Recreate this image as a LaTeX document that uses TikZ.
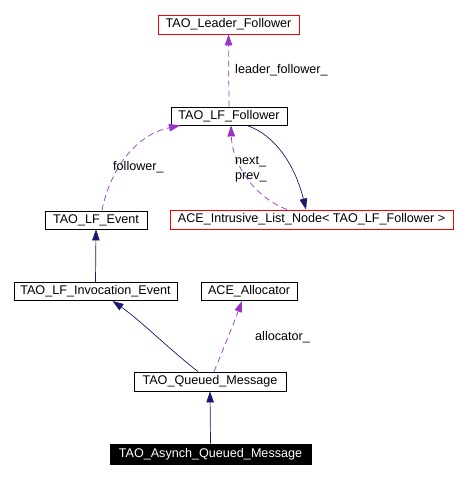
\documentclass[tikz,border=0pt]{standalone}
\usepackage{fontspec}
\setmainfont{Liberation Sans}
\usetikzlibrary{arrows.meta}
\definecolor{edgeblue}{HTML}{191970}
\definecolor{edgepurple}{HTML}{9A32CD}
\tikzset{
  cls/.style={draw=black, line width=0.9pt, fill=white, inner sep=0pt, text=black},
  redcls/.style={cls, draw=red},
  hicls/.style={cls, fill=black, text=white},
  inh/.style={draw=edgeblue, line width=0.7pt, -{Triangle[length=11pt,width=7.5pt]}},
  use/.style={draw=edgepurple, line width=0.7pt, dash pattern=on 6pt off 4pt, -{Triangle[length=11pt,width=7.5pt]}},
  lbl/.style={inner sep=0pt, text=black, anchor=west}
}
\begin{document}
\begin{tikzpicture}[x=1pt,y=-1pt,font=\fontsize{12.6}{14}\selectfont]
\useasboundingbox[fill=white] (0,0) rectangle (466,478);
\node[redcls, minimum width=141pt, minimum height=19pt] (leader) at (228.5,24.5) {TAO\_Leader\_Follower};
\node[cls, minimum width=116pt, minimum height=18pt] (follower) at (229,116) {TAO\_LF\_Follower};
\node[redcls, minimum width=283pt, minimum height=19pt] (intrusive) at (311.5,219.5) {ACE\_Intrusive\_List\_Node< TAO\_LF\_Follower >};
\node[cls, minimum width=102pt, minimum height=18pt] (event) at (96,220) {TAO\_LF\_Event};
\node[cls, minimum width=163pt, minimum height=18pt] (invocation) at (95.5,291.5) {TAO\_LF\_Invocation\_Event};
\node[cls, minimum width=96pt, minimum height=18pt] (allocator) at (249,291.5) {ACE\_Allocator};
\node[cls, minimum width=152pt, minimum height=19pt] (queued) at (210,381.5) {TAO\_Queued\_Message};
\node[hicls, minimum width=201pt, minimum height=20pt] (asynch) at (210.5,454) {TAO\_Asynch\_Queued\_Message};

% edges
\draw[use] (follower.north) -- (leader.south);
\draw[use] ([xshift=6pt]event.north) .. controls (110,170) and (135,135) .. ([xshift=-49pt]follower.south);
\draw[use] ([xshift=-24.5pt]intrusive.north) .. controls (250,195) and (232,160) .. ([xshift=2pt]follower.south);
\draw[inh] ([xshift=18pt]follower.south) .. controls (275,135) and (295,165) .. ([xshift=-5.5pt]intrusive.north);
\draw[inh] (invocation.north) -- (event.south);
\draw[inh] ([xshift=-12pt]queued.north) .. controls (170,350) and (140,320) .. ([xshift=17pt]invocation.south);
\draw[use] ([xshift=4pt]queued.north) .. controls (225,345) and (235,320) .. ([xshift=-7pt]allocator.south);
\draw[inh] (asynch.north) -- (queued.south);

% labels
\node[lbl] (lleader) at (235,70.5) {leader\_follower\_};
\node[lbl] (lfollower) at (113,167.5) {follower\_};
\node[lbl] (lnext) at (235,162) {next\_};
\node[lbl] (lprev) at (235,177) {prev\_};
\node[lbl] (lalloc) at (255,337.5) {allocator\_};
\end{tikzpicture}
\end{document}
